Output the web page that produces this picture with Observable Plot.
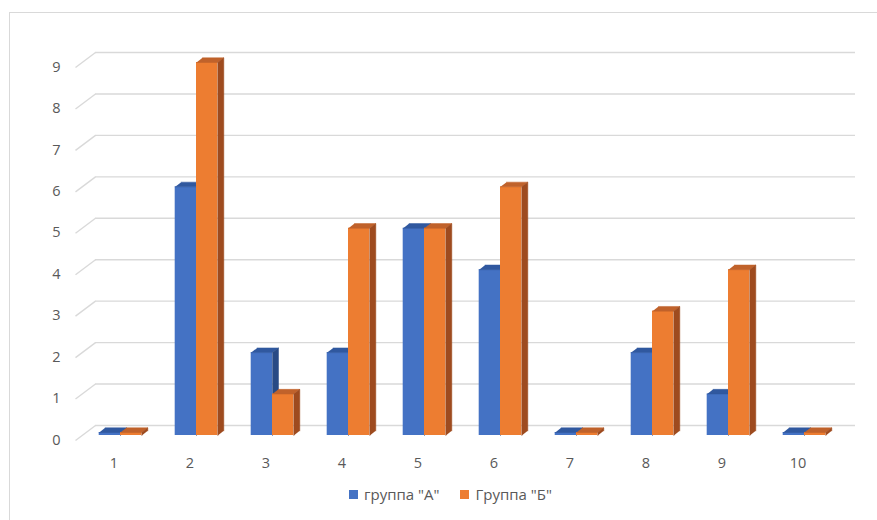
<!DOCTYPE html>
<html>
<head>
<meta charset="utf-8">
<script src="https://cdn.jsdelivr.net/npm/d3@7"></script>
<script src="https://cdn.jsdelivr.net/npm/@observablehq/plot@0.6"></script>
<style>
  html, body { margin: 0; padding: 0; background: #fff; overflow: hidden; }
  #wrap { position: relative; width: 877px; height: 520px; overflow: hidden; font-family: "Open Sans", sans-serif; }
  #frame { position: absolute; left: 9px; top: 12px; width: 1000px; height: 1000px; border: 1px solid #d9d9d9; box-sizing: border-box; }
  #chart { position: absolute; left: 0; top: 0; }
  #legend { position: absolute; left: 349px; top: 484px; display: flex; align-items: center; font-size: 15px; color: #595959; white-space: nowrap; }
  .sw { display: inline-block; width: 9px; height: 9px; margin-right: 6px; }
  .item { display: flex; align-items: center; margin-right: 21px; }
</style>
</head>
<body>
<div id="wrap">
  <div id="frame"></div>
  <div id="chart"></div>
  <div id="legend"></div>
</div>
<script>
// ---- data ----
const categories = ["1", "2", "3", "4", "5", "6", "7", "8", "9", "10"];
const seriesNames = ["группа \"А\"", "Группа \"Б\""];
const groupA = [0, 6, 2, 2, 5, 4, 0, 2, 1, 0];
const groupB = [0, 9, 1, 5, 5, 6, 0, 3, 4, 0];
const yTicks = [0, 1, 2, 3, 4, 5, 6, 7, 8, 9];

// ---- styling / geometry ----
const colorsFront = ["#4472c4", "#ed7d31"];
const colorsTop = ["#30589f", "#c0622b"];
const colorsSide = ["#284a85", "#9e4b1f"];
const W = 877, H = 478;
const xRange = [82, 842], yRange = [435, 62];
const xDomain = [0.5, 10.5], yDomain = [0, 9];
const pxX = (xRange[1] - xRange[0]) / (xDomain[1] - xDomain[0]); // px per x unit
const pxY = (yRange[0] - yRange[1]) / (yDomain[1] - yDomain[0]); // px per y unit
const barW = 21.3 / pxX;
const depX = 6 / pxX, depY = 4.7 / pxY;
const minH = 3 / pxY; // zero-height bars drawn as a thin slab

const bars = [];
[groupA, groupB].forEach((vals, s) => {
  vals.forEach((v, i) => {
    const c = i + 1;
    const x0 = c - barW + s * barW;
    bars.push({s, c, v, h: Math.max(v, minH), x0, x1: x0 + barW});
  });
});

function faces(kind) {
  const pts = [];
  bars.forEach((b, k) => {
    let poly;
    if (kind === "top") {
      poly = [[b.x0, b.h], [b.x1, b.h], [b.x1 + depX, b.h + depY], [b.x0 + depX, b.h + depY]];
    } else {
      poly = [[b.x1, 0], [b.x1, b.h], [b.x1 + depX, b.h + depY], [b.x1 + depX, depY]];
    }
    poly.forEach(([x, y]) => pts.push({id: k, s: b.s, x, y}));
  });
  return pts;
}
const tops = faces("top"), sides = faces("side");

const marks = [
  // back-wall gridlines
  Plot.ruleY(yTicks, {x1: xDomain[0], x2: xDomain[1], y: d => d, dx: 13, dy: -10, stroke: "#d9d9d9", strokeWidth: 1.4}),
  // perspective side-wall lines
  Plot.link(yTicks, {
    x1: xDomain[0] - 7 / pxX, y1: d => d - 5 / pxY,
    x2: xDomain[0] + 13 / pxX, y2: d => d + 10 / pxY,
    stroke: "#d9d9d9", strokeWidth: 1.4
  })
];
[0, 1].forEach(s => {
  marks.push(
    Plot.rect(bars.filter(b => b.s === s), {x1: "x0", x2: "x1", y1: 0, y2: "h", fill: colorsFront[s], insetLeft: 0, insetRight: 0}),
    Plot.line(tops.filter(p => p.s === s), {x: "x", y: "y", z: "id", fill: colorsTop[s], stroke: colorsTop[s], strokeWidth: 0.5}),
    Plot.line(sides.filter(p => p.s === s), {x: "x", y: "y", z: "id", fill: colorsSide[s], stroke: colorsSide[s], strokeWidth: 0.5})
  );
});
// axis labels
marks.push(
  Plot.text(yTicks, {x: xDomain[0], y: d => d, text: d => String(d), dx: -22, dy: 4.5, textAnchor: "end", fill: "#595959", fontSize: 14.5}),
  Plot.text(categories, {x: (d, i) => i + 1, y: 0, text: d => d, dx: -6.5, dy: 28, fill: "#595959", fontSize: 14.5})
);

const chart = Plot.plot({
  width: W, height: H,
  marginLeft: 0, marginRight: 0, marginTop: 0, marginBottom: 0,
  x: {type: "linear", domain: xDomain, range: xRange, axis: null},
  y: {type: "linear", domain: yDomain, range: yRange, axis: null},
  style: {fontFamily: "Open Sans, sans-serif", background: "transparent", overflow: "visible"},
  marks
});
document.getElementById("chart").appendChild(chart);

// legend
const leg = document.getElementById("legend");
seriesNames.forEach((name, s) => {
  const it = document.createElement("span");
  it.className = "item";
  const sw = document.createElement("span");
  sw.className = "sw";
  sw.style.background = colorsFront[s];
  const tx = document.createElement("span");
  tx.textContent = name;
  it.appendChild(sw); it.appendChild(tx);
  leg.appendChild(it);
});
</script>
</body>
</html>
